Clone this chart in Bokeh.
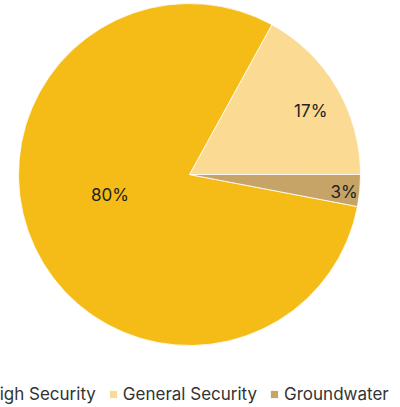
import math
from bokeh.plotting import figure
from bokeh.models import ColumnDataSource, Range1d, Legend, LegendItem
from bokeh.core.properties import value
from bokeh.embed import file_html
from bokeh.resources import INLINE

# data (drawing order, anticlockwise from 3 o'clock)
names = ["General Security", "High Security", "Groundwater"]
values = [17, 80, 3]
labels = ["17%", "80%", "3%"]
colors = ["#FBDA94", "#F5BC17", "#C6A366"]
legend_order = ["High Security", "General Security", "Groundwater"]

# label placement style (radius fraction, angle nudge in degrees)
R = 171
label_r = [0.80, 0.48, 0.91]
label_nudge = [-3.0, -11.0, -1.0]

total = sum(values)
starts, ends, lx, ly = [], [], [], []
acc = 0.0
for v, f, nd in zip(values, label_r, label_nudge):
    a0 = acc / total * 2 * math.pi
    acc += v
    a1 = acc / total * 2 * math.pi
    starts.append(a0)
    ends.append(a1)
    m = (a0 + a1) / 2 + math.radians(nd)
    lx.append(R * f * math.cos(m))
    ly.append(R * f * math.sin(m))

src = ColumnDataSource(dict(name=names, start=starts, end=ends, color=colors,
                            lx=lx, ly=ly, label=labels))

W, H = 408, 415
CX, CY = 197, 182
p = figure(width=W, height=H, output_backend="svg", toolbar_location=None,
           x_range=Range1d(-CX, W - CX), y_range=Range1d(CY - H, CY),
           min_border=0, outline_line_color=None, margin=(-8, -8, -8, -8))
p.axis.visible = False
p.grid.visible = False
p.background_fill_color = "white"

r = p.wedge(x=0, y=0, radius=R, start_angle="start", end_angle="end",
            fill_color="color", line_color="white", line_width=0.8, source=src)

p.text(x="lx", y="ly", text="label", source=src, text_align="center",
       text_baseline="middle", text_font=value("Inter"), text_font_size="17px",
       text_color="#222222")

items = [LegendItem(label=n, renderers=[r], index=names.index(n)) for n in legend_order]
legend = Legend(items=items, orientation="horizontal", location=(-20, 3),
                label_text_font="Inter", label_text_font_size="17px",
                label_text_color="#333333", glyph_width=10, glyph_height=10,
                label_standoff=5, spacing=12, padding=0, margin=0,
                border_line_alpha=0, background_fill_alpha=0)
p.add_layout(legend)

open("out.html", "w").write(file_html(p, INLINE))
